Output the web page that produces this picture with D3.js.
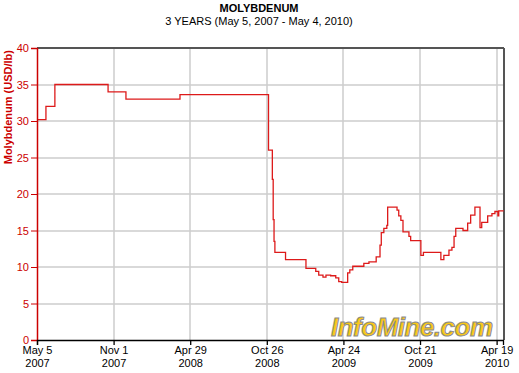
<!DOCTYPE html>
<html>
<head>
<meta charset="utf-8">
<script src="https://cdn.jsdelivr.net/npm/d3@7"></script>
<style>
  body { margin: 0; background: #fff; }
  text { font-family: "Liberation Sans", Arial, sans-serif; }
</style>
</head>
<body>
<div id="chart"></div>
<script>
var w = 519;
var h = 373;

// price data (step changes)
var dates = ["2007-05-05", "2007-05-26", "2007-06-16", "2007-10-19", "2007-11-30", "2008-04-05",
  "2008-10-30", "2008-11-08", "2008-11-10", "2008-11-12", "2008-11-14", "2008-12-09",
  "2009-01-26", "2009-02-18", "2009-02-25", "2009-03-07", "2009-03-14", "2009-03-25",
  "2009-04-06", "2009-04-13", "2009-04-20", "2009-05-04", "2009-05-09", "2009-05-16",
  "2009-06-11", "2009-06-23", "2009-07-10", "2009-07-19", "2009-07-22", "2009-07-28",
  "2009-08-04", "2009-08-06", "2009-08-28", "2009-09-01", "2009-09-06", "2009-09-11",
  "2009-09-25", "2009-09-29", "2009-10-23", "2009-10-29", "2009-12-09", "2009-12-16",
  "2009-12-28", "2010-01-04", "2010-01-09", "2010-01-13", "2010-01-30", "2010-02-10",
  "2010-02-17", "2010-02-27", "2010-03-11", "2010-03-15", "2010-03-29", "2010-04-08",
  "2010-04-15", "2010-04-22", "2010-04-24", "2010-05-04"];
var prices = [30.2, 32.0, 35.0, 34.0, 33.0, 33.6,
  26.0, 22.0, 16.5, 13.5, 12.0, 11.0,
  9.8, 9.4, 8.9, 8.6, 8.9, 8.8,
  8.5, 8.0, 7.9, 9.2, 9.6, 10.1,
  10.5, 10.7, 11.4, 13.0, 14.7, 15.3,
  15.7, 18.2, 17.8, 17.0, 16.4, 14.8,
  14.2, 13.6, 11.6, 12.0, 11.0, 11.6,
  12.3, 12.7, 14.2, 15.3, 15.0, 16.0,
  17.1, 18.2, 15.4, 16.1, 17.0, 17.3,
  17.6, 17.0, 17.7, 17.6];

var xTickDates = ["2007-05-05", "2007-11-01", "2008-04-29", "2008-10-26", "2009-04-24", "2009-10-21", "2010-04-19"];
var xTickLabels = [["May 5", "2007"], ["Nov 1", "2007"], ["Apr 29", "2008"], ["Oct 26", "2008"],
  ["Apr 24", "2009"], ["Oct 21", "2009"], ["Apr 19", "2010"]];
var yTicks = [0, 5, 10, 15, 20, 25, 30, 35, 40];

var parse = d3.timeParse("%Y-%m-%d");
var data = dates.map(function(d, i) {
    return { date: parse(d), value: prices[i] };
});

var plotL = 37, plotR = 503, plotT = 48, plotB = 340;

var x = d3.scaleTime()
    .domain([parse("2007-05-05"), parse("2010-05-04")])
    .range([plotL, plotR]);
var y = d3.scaleLinear().domain([0, 40]).range([plotB, plotT]);

var svg = d3.select("#chart").append("svg")
    .attr("width", w)
    .attr("height", h);

// titles
svg.append("text").attr("x", 259).attr("y", 12)
    .attr("text-anchor", "middle").attr("font-size", 11).attr("font-weight", "bold")
    .text("MOLYBDENUM");
svg.append("text").attr("x", 259).attr("y", 25)
    .attr("text-anchor", "middle").attr("font-size", 11)
    .text("3 YEARS (May 5, 2007 - May 4, 2010)");

// grid
svg.append("g").selectAll("line")
    .data(yTicks.filter(function(d) { return d > 0 && d < 40; }))
    .enter().append("line")
    .attr("x1", plotL).attr("x2", plotR)
    .attr("y1", function(d) { return Math.round(y(d)); })
    .attr("y2", function(d) { return Math.round(y(d)); })
    .attr("stroke", "#cccccc").attr("stroke-width", 1.5);
svg.append("g").selectAll("line")
    .data(xTickDates.slice(1))
    .enter().append("line")
    .attr("x1", function(d) { return Math.round(x(parse(d))); })
    .attr("x2", function(d) { return Math.round(x(parse(d))); })
    .attr("y1", plotT).attr("y2", plotB)
    .attr("stroke", "#cccccc").attr("stroke-width", 1.5);

// watermark
svg.append("text")
    .attr("x", 493).attr("y", 336)
    .attr("text-anchor", "end")
    .attr("font-size", 26).attr("font-weight", "bold").attr("font-style", "italic")
    .attr("fill", "#f9c81a").attr("stroke", "#8a8a8a").attr("stroke-width", 1)
    .attr("textLength", 162)
    .text("InfoMine.com");

// frame top and right
svg.append("line").attr("x1", plotL).attr("x2", plotR + 1).attr("y1", plotT).attr("y2", plotT)
    .attr("stroke", "#555555").attr("stroke-width", 2);
svg.append("line").attr("x1", plotR + 1).attr("x2", plotR + 1).attr("y1", plotT).attr("y2", plotB)
    .attr("stroke", "#555555").attr("stroke-width", 2);

// price line
var line = d3.line()
    .x(function(d) { return x(d.date); })
    .y(function(d) { return y(d.value); })
    .curve(d3.curveStepAfter);
svg.append("path").datum(data)
    .attr("d", line)
    .attr("fill", "none")
    .attr("stroke", "#dd1a1a")
    .attr("stroke-width", 1.3);

// y axis
var yAxis = svg.append("g")
    .attr("transform", "translate(" + plotL + ",0)")
    .call(d3.axisLeft(y).tickValues(yTicks).tickSize(6).tickPadding(2));
yAxis.selectAll("path, line").attr("stroke", "#cc0000");
yAxis.selectAll("text").attr("fill", "#cc0000").attr("font-size", 11)
    .attr("font-family", "Liberation Sans, Arial, sans-serif");
yAxis.select(".domain").attr("stroke-width", 1.5);

// x axis
var xAxis = svg.append("g")
    .attr("transform", "translate(0," + plotB + ")")
    .call(d3.axisBottom(x).tickValues(xTickDates.map(parse)).tickSize(5).tickFormat(""));
xAxis.selectAll("path, line").attr("stroke", "#000").attr("stroke-width", 1.3);
xAxis.selectAll(".tick").each(function(d, i) {
    var t = d3.select(this).append("text")
        .attr("fill", "#000").attr("font-size", 11)
        .attr("font-family", "Liberation Sans, Arial, sans-serif")
        .attr("text-anchor", "middle");
    t.append("tspan").attr("x", 0).attr("y", 14).text(xTickLabels[i][0]);
    t.append("tspan").attr("x", 0).attr("y", 27).text(xTickLabels[i][1]);
});

// y label
svg.append("text")
    .attr("transform", "translate(12,50) rotate(-90)")
    .attr("text-anchor", "end")
    .attr("font-size", 11).attr("font-weight", "bold")
    .attr("fill", "#cc0000")
    .text("Molybdenum (USD/lb)");
</script>
</body>
</html>
